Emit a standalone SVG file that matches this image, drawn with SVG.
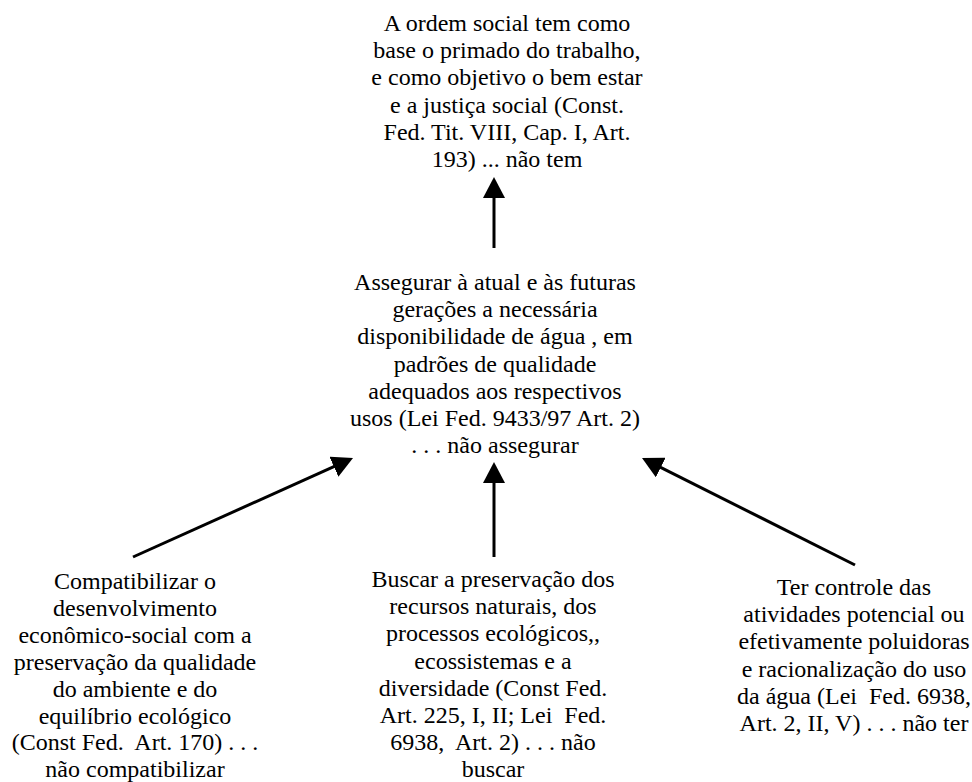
<svg xmlns="http://www.w3.org/2000/svg" width="972" height="782" viewBox="0 0 972 782">
<style>
text{font-family:"Liberation Serif","Times New Roman",serif;font-size:24px;fill:#000;text-anchor:middle}
.c line{stroke:#000;stroke-width:3;fill:none}
</style>
<defs>
<marker id="ah" markerUnits="userSpaceOnUse" markerWidth="22" markerHeight="22" refX="3" refY="11" orient="auto" viewBox="0 0 22 22">
<path d="M0,0 L21,11 L0,22 z" fill="#000"/>
</marker>
</defs>
<rect width="972" height="782" fill="#fff"/>
<g id="n-top">
<text x="507" y="31">A ordem social tem como</text>
<text x="507" y="58.2">base o primado do trabalho,</text>
<text x="507" y="85.4">e como objetivo o bem estar</text>
<text x="507" y="112.6">e a justiça social (Const.</text>
<text x="507" y="139.8">Fed. Tit. VIII, Cap. I, Art.</text>
<text x="507" y="167">193) ... não tem</text>
</g>
<g id="n-mid">
<text x="495" y="290">Assegurar à atual e às futuras</text>
<text x="495" y="317.2">gerações a necessária</text>
<text x="495" y="344.4">disponibilidade de água , em</text>
<text x="495" y="371.6">padrões de qualidade</text>
<text x="495" y="398.8">adequados aos respectivos</text>
<text x="495" y="426">usos (Lei Fed. 9433/97 Art. 2)</text>
<text x="495" y="453.2">. . . não assegurar</text>
</g>
<g id="n-left">
<text x="135" y="589">Compatibilizar o</text>
<text x="135" y="615.9">desenvolvimento</text>
<text x="135" y="642.8">econômico-social com a</text>
<text x="135" y="669.7">preservação da qualidade</text>
<text x="135" y="696.6">do ambiente e do</text>
<text x="135" y="723.5">equilíbrio ecológico</text>
<text x="135" y="750.4" xml:space="preserve">(Const Fed.  Art. 170) . . .</text>
<text x="135" y="777.3">não compatibilizar</text>
</g>
<g id="n-center">
<text x="493" y="587">Buscar a preservação dos</text>
<text x="493" y="614.2">recursos naturais, dos</text>
<text x="493" y="641.4">processos ecológicos,,</text>
<text x="493" y="668.6">ecossistemas e a</text>
<text x="493" y="695.8">diversidade (Const Fed.</text>
<text x="493" y="723" xml:space="preserve">Art. 225, I, II; Lei  Fed.</text>
<text x="493" y="750.2" xml:space="preserve">6938,  Art. 2) . . . não</text>
<text x="493" y="777.4">buscar</text>
</g>
<g id="n-right">
<text x="854" y="595">Ter controle das</text>
<text x="854" y="622.2">atividades potencial ou</text>
<text x="854" y="649.4">efetivamente poluidoras</text>
<text x="854" y="676.6">e racionalização do uso</text>
<text x="854" y="703.8" xml:space="preserve">da água (Lei  Fed. 6938,</text>
<text x="854" y="731">Art. 2, II, V) . . . não ter</text>
</g>
<g id="connectors" class="c">
<line x1="494" y1="248" x2="494" y2="195" marker-end="url(#ah)"/>
<line x1="494" y1="557" x2="494" y2="480" marker-end="url(#ah)"/>
<line x1="133" y1="557" x2="336.6" y2="465.4" marker-end="url(#ah)"/>
<line x1="855" y1="565" x2="658.1" y2="466.1" marker-end="url(#ah)"/>
</g>
</svg>
